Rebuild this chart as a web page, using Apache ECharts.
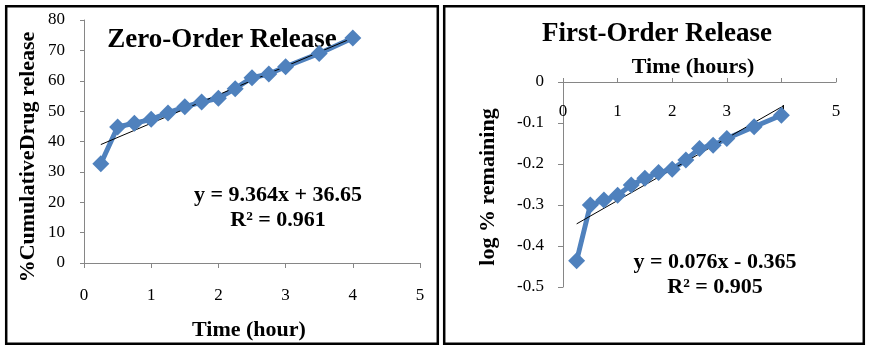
<!DOCTYPE html>
<html>
<head>
<meta charset="utf-8">
<script src="https://cdn.jsdelivr.net/npm/echarts@6/dist/echarts.min.js"></script>
<style>
  html, body { margin: 0; padding: 0; background: #fff; }
  #main { width: 876px; height: 352px; }
</style>
</head>
<body>
<div id="main"></div>
<script>
  // time points (hours)
  var time_hours = [0.25, 0.5, 0.75, 1, 1.25, 1.5, 1.75, 2, 2.25, 2.5, 2.75, 3, 3.5, 4];
  // zero order: % cumulative drug release
  var cum_release = [32.7, 44.8, 46, 47.3, 49.4, 51.4, 53, 54.2, 57.4, 61, 62.2, 64.6, 69, 74.1];
  // first order: log % remaining
  var log_remaining = [-0.436, -0.300, -0.288, -0.276, -0.251, -0.235, -0.221, -0.213, -0.190, -0.162, -0.154, -0.138, -0.109, -0.081];
  // linear fits [slope, intercept]
  var zero_fit = [9.364, 36.65];
  var first_fit = [0.076, -0.365];
  var zero_eq = ['y = 9.364x + 36.65', 'R² = 0.961'];
  var first_eq = ['y = 0.076x - 0.365', 'R² = 0.905'];

  var serif = '"Liberation Serif", "DejaVu Serif", serif';
  var blue = '#4F81BD';
  var axisGray = '#868686';

  function pairs(xs, ys) {
    return xs.map(function (x, i) { return [x, ys[i]]; });
  }
  function fitLine(fit) {
    var x0 = time_hours[0], x1 = time_hours[time_hours.length - 1];
    return [[x0, fit[0] * x0 + fit[1]], [x1, fit[0] * x1 + fit[1]]];
  }
  function txt(x, y, s, size, rot) {
    return {
      type: 'text', x: x, y: y, rotation: rot || 0,
      style: {
        text: s, fontFamily: serif, fontWeight: 'bold', fontSize: size,
        fill: '#000', align: 'center', verticalAlign: 'middle'
      }
    };
  }

  var tickLabel = { fontFamily: serif, fontSize: 17, color: '#000' };

  var chart = echarts.init(document.getElementById('main'));
  chart.setOption({
    animation: false,
    grid: [
      { left: 84, top: 20, width: 336, height: 243 },
      { left: 563, top: 82, width: 273, height: 205 }
    ],
    xAxis: [
      {
        gridIndex: 0, type: 'value', min: 0, max: 5, interval: 1,
        axisLine: { lineStyle: { color: axisGray } },
        axisTick: { length: 5, lineStyle: { color: axisGray } },
        axisLabel: Object.assign({ margin: 24 }, tickLabel),
        splitLine: { show: false }
      },
      {
        gridIndex: 1, type: 'value', min: 0, max: 5, interval: 1, position: 'top',
        axisLine: { onZero: false, lineStyle: { color: axisGray } },
        axisTick: { length: 4, lineStyle: { color: axisGray } },
        axisLabel: Object.assign({ inside: true, margin: 21 }, tickLabel),
        splitLine: { show: false }
      }
    ],
    yAxis: [
      {
        gridIndex: 0, type: 'value', min: 0, max: 80, interval: 10,
        axisLine: { show: true, lineStyle: { color: axisGray } },
        axisTick: { show: true, length: 4, lineStyle: { color: axisGray } },
        axisLabel: Object.assign({ margin: 19 }, tickLabel),
        splitLine: { show: false }
      },
      {
        gridIndex: 1, type: 'value', min: -0.5, max: 0, interval: 0.1,
        axisLine: { show: true, lineStyle: { color: axisGray } },
        axisTick: { show: true, length: 5, lineStyle: { color: axisGray } },
        axisLabel: Object.assign({ margin: 19,
          formatter: function (v) { return v === 0 ? '0' : String(Math.round(v * 10) / 10); } }, tickLabel),
        splitLine: { show: false }
      }
    ],
    series: [
      {
        type: 'line', xAxisIndex: 0, yAxisIndex: 0,
        data: pairs(time_hours, cum_release),
        symbol: 'diamond', symbolSize: 17,
        lineStyle: { color: blue, width: 5 },
        itemStyle: { color: blue }
      },
      {
        type: 'line', xAxisIndex: 0, yAxisIndex: 0,
        data: fitLine(zero_fit), symbol: 'none',
        lineStyle: { color: '#000', width: 1 }
      },
      {
        type: 'line', xAxisIndex: 1, yAxisIndex: 1,
        data: pairs(time_hours, log_remaining),
        symbol: 'diamond', symbolSize: 17,
        lineStyle: { color: blue, width: 5 },
        itemStyle: { color: blue }
      },
      {
        type: 'line', xAxisIndex: 1, yAxisIndex: 1,
        data: fitLine(first_fit), symbol: 'none',
        lineStyle: { color: '#000', width: 1 }
      }
    ],
    graphic: [
      { type: 'rect', shape: { x: 6.2, y: 6.2, width: 431.6, height: 337.6 },
        style: { fill: 'none', stroke: '#000', lineWidth: 2.5 } },
      { type: 'rect', shape: { x: 444.2, y: 6.2, width: 419.6, height: 337.6 },
        style: { fill: 'none', stroke: '#000', lineWidth: 2.5 } },
      txt(222, 40, 'Zero-Order Release', 27),
      txt(657, 34, 'First-Order Release', 27),
      // axis titles
      txt(249, 330, 'Time (hour)', 22),
      txt(693, 67, 'Time (hours)', 22),
      txt(28, 157, '%CumulativeDrug release', 22, Math.PI / 2),
      txt(488, 187, 'log % remaining', 22, Math.PI / 2),
      // regression labels
      txt(278, 195, zero_eq[0], 22),
      txt(278, 220, zero_eq[1], 22),
      txt(715, 262, first_eq[0], 22),
      txt(715, 287, first_eq[1], 22)
    ]
  });
</script>
</body>
</html>
